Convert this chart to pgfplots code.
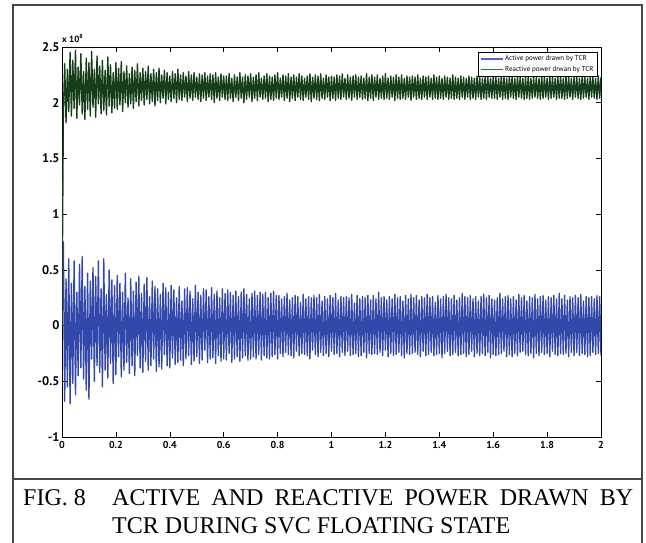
\documentclass[border=0pt]{standalone}
\usepackage{pgfplots}
\pgfplotsset{compat=1.18}
\usepackage{pgfplotstable}
\usepackage{fontspec}
\setmainfont{Liberation Serif}
\newfontfamily\labelfont{PT Sans}

\definecolor{tcrBlue}{RGB}{50,72,170}
\definecolor{tcrGreen}{RGB}{22,62,26}
\definecolor{legBlue}{RGB}{80,100,200}
\definecolor{legGreen}{RGB}{40,120,45}
\definecolor{frameGray}{RGB}{70,70,70}

% t [s], active power p and reactive power q [x 10^8]
\pgfplotstableread[row sep=\\]{
t p q\\
0.000 0 0\\
0.005 0.75 1.90\\ 0.010 -0.68 2.35\\ 0.015 0.42 1.82\\ 0.020 -0.55 2.30\\ 0.025 0.60 1.92\\
0.030 -0.70 2.45\\ 0.035 0.38 1.88\\ 0.040 -0.52 2.38\\ 0.045 0.58 1.95\\ 0.050 -0.62 2.47\\
0.055 0.30 1.86\\ 0.060 -0.45 2.32\\ 0.065 0.55 1.98\\ 0.070 -0.38 2.44\\ 0.075 0.62 1.90\\
0.080 -0.48 2.28\\ 0.085 0.35 1.85\\ 0.090 -0.58 2.40\\ 0.095 0.47 1.94\\ 0.100 -0.66 2.36\\
0.105 0.40 1.88\\ 0.110 -0.30 2.46\\ 0.115 0.52 1.96\\ 0.120 -0.50 2.30\\ 0.125 0.44 1.87\\
0.130 -0.36 2.42\\ 0.135 0.58 1.99\\ 0.140 -0.42 2.33\\ 0.145 0.33 1.90\\ 0.150 -0.55 2.38\\
0.155 0.60 1.93\\ 0.160 -0.40 2.29\\ 0.165 0.28 1.89\\ 0.170 -0.47 2.41\\ 0.175 0.50 1.97\\
0.180 -0.34 2.34\\ 0.185 0.41 1.91\\ 0.190 -0.52 2.27\\ 0.195 0.36 1.95\\ 0.200 -0.44 2.36\\
0.205 0.45 1.94\\ 0.210 -0.28 2.31\\ 0.215 0.38 1.98\\ 0.220 -0.46 2.37\\ 0.225 0.30 1.92\\
0.230 -0.40 2.28\\ 0.235 0.47 2.00\\ 0.240 -0.33 2.33\\ 0.245 0.25 1.96\\ 0.250 -0.43 2.26\\
0.255 0.42 1.99\\ 0.260 -0.36 2.32\\ 0.265 0.31 1.95\\ 0.270 -0.45 2.29\\ 0.275 0.39 2.01\\
0.280 -0.27 2.35\\ 0.285 0.44 1.97\\ 0.290 -0.38 2.27\\ 0.295 0.29 2.02\\ 0.300 -0.42 2.31\\
0.305 0.37 1.98\\ 0.310 -0.32 2.28\\ 0.315 0.43 2.03\\ 0.320 -0.40 2.33\\ 0.325 0.26 1.99\\
0.330 -0.36 2.26\\ 0.335 0.40 2.01\\ 0.340 -0.30 2.30\\ 0.345 0.35 1.97\\ 0.350 -0.41 2.27\\
0.355 0.33 2.02\\ 0.360 -0.37 2.31\\ 0.365 0.28 2.00\\ 0.370 -0.39 2.25\\ 0.375 0.38 2.04\\
0.380 -0.26 2.29\\ 0.385 0.34 1.99\\ 0.390 -0.36 2.27\\ 0.395 0.30 2.03\\ 0.400 -0.38 2.24\\
0.405 0.36 2.01\\ 0.410 -0.29 2.28\\ 0.415 0.32 2.04\\ 0.420 -0.35 2.26\\ 0.425 0.25 2.00\\
0.430 -0.33 2.30\\ 0.435 0.35 2.03\\ 0.440 -0.31 2.25\\ 0.445 0.22 2.02\\ 0.450 -0.36 2.27\\
0.455 0.33 2.05\\ 0.460 -0.30 2.24\\ 0.465 0.34 2.01\\ 0.470 -0.27 2.28\\ 0.475 0.31 2.04\\
0.480 -0.35 2.25\\ 0.485 0.24 2.02\\ 0.490 -0.32 2.27\\ 0.495 0.36 2.05\\ 0.500 -0.28 2.23\\
0.505 0.30 2.03\\ 0.510 -0.34 2.26\\ 0.515 0.27 2.01\\ 0.520 -0.31 2.25\\ 0.525 0.33 2.04\\
0.530 -0.22 2.27\\ 0.535 0.32 2.02\\ 0.540 -0.33 2.24\\ 0.545 0.26 2.05\\ 0.550 -0.30 2.26\\
0.555 0.34 2.03\\ 0.560 -0.29 2.25\\ 0.565 0.28 2.00\\ 0.570 -0.34 2.27\\ 0.575 0.31 2.04\\
0.580 -0.27 2.23\\ 0.585 0.25 2.02\\ 0.590 -0.32 2.26\\ 0.595 0.33 2.05\\ 0.600 -0.30 2.24\\
0.605 0.29 2.03\\ 0.610 -0.31 2.24\\ 0.615 0.32 2.02\\ 0.620 -0.25 2.26\\ 0.625 0.30 2.04\\
0.630 -0.33 2.22\\ 0.635 0.27 2.01\\ 0.640 -0.30 2.25\\ 0.645 0.31 2.05\\ 0.650 -0.28 2.23\\
0.655 0.26 2.02\\ 0.660 -0.32 2.27\\ 0.665 0.30 2.04\\ 0.670 -0.29 2.23\\ 0.675 0.33 2.00\\
0.680 -0.27 2.25\\ 0.685 0.28 2.03\\ 0.690 -0.31 2.24\\ 0.695 0.24 2.05\\ 0.700 -0.30 2.26\\
0.705 0.29 2.01\\ 0.710 -0.28 2.23\\ 0.715 0.31 2.04\\ 0.720 -0.30 2.25\\ 0.725 0.27 2.02\\
0.730 -0.26 2.27\\ 0.735 0.30 2.05\\ 0.740 -0.31 2.22\\ 0.745 0.28 2.03\\ 0.750 -0.27 2.24\\
0.755 0.30 2.04\\ 0.760 -0.29 2.26\\ 0.765 0.25 2.01\\ 0.770 -0.30 2.24\\ 0.775 0.29 2.03\\
0.780 -0.28 2.23\\ 0.785 0.31 2.02\\ 0.790 -0.26 2.25\\ 0.795 0.27 2.04\\ 0.800 -0.30 2.27\\
0.805 0.27 2.03\\ 0.810 -0.25 2.22\\ 0.815 0.24 2.05\\ 0.820 -0.28 2.25\\ 0.825 0.26 2.02\\
0.830 -0.24 2.24\\ 0.835 0.29 2.04\\ 0.840 -0.26 2.26\\ 0.845 0.23 2.01\\ 0.850 -0.27 2.23\\
0.855 0.25 2.04\\ 0.860 -0.29 2.25\\ 0.865 0.27 2.02\\ 0.870 -0.23 2.23\\ 0.875 0.26 2.05\\
0.880 -0.27 2.26\\ 0.885 0.21 2.03\\ 0.890 -0.25 2.24\\ 0.895 0.28 2.02\\ 0.900 -0.26 2.22\\
0.905 0.24 2.05\\ 0.910 -0.27 2.24\\ 0.915 0.26 2.03\\ 0.920 -0.30 2.26\\ 0.925 0.25 2.01\\
0.930 -0.22 2.23\\ 0.935 0.27 2.04\\ 0.940 -0.26 2.25\\ 0.945 0.25 2.03\\ 0.950 -0.28 2.24\\
0.955 0.28 2.02\\ 0.960 -0.24 2.26\\ 0.965 0.22 2.04\\ 0.970 -0.27 2.22\\ 0.975 0.26 2.03\\
0.980 -0.25 2.25\\ 0.985 0.24 2.05\\ 0.990 -0.28 2.23\\ 0.995 0.27 2.02\\ 1.000 -0.23 2.24\\
1.005 0.25 2.04\\ 1.010 -0.26 2.23\\ 1.015 0.29 2.02\\ 1.020 -0.25 2.25\\ 1.025 0.23 2.04\\
1.030 -0.28 2.24\\ 1.035 0.26 2.03\\ 1.040 -0.24 2.26\\ 1.045 0.25 2.05\\ 1.050 -0.27 2.22\\
1.055 0.26 2.03\\ 1.060 -0.23 2.25\\ 1.065 0.25 2.04\\ 1.070 -0.27 2.23\\ 1.075 0.28 2.02\\
1.080 -0.26 2.24\\ 1.085 0.20 2.05\\ 1.090 -0.25 2.25\\ 1.095 0.27 2.03\\ 1.100 -0.28 2.23\\
1.105 0.24 2.05\\ 1.110 -0.27 2.24\\ 1.115 0.26 2.03\\ 1.120 -0.24 2.22\\ 1.125 0.25 2.04\\
1.130 -0.29 2.26\\ 1.135 0.27 2.02\\ 1.140 -0.25 2.23\\ 1.145 0.23 2.04\\ 1.150 -0.26 2.25\\
1.155 0.27 2.02\\ 1.160 -0.25 2.23\\ 1.165 0.24 2.05\\ 1.170 -0.26 2.25\\ 1.175 0.30 2.03\\
1.180 -0.24 2.22\\ 1.185 0.25 2.04\\ 1.190 -0.27 2.24\\ 1.195 0.26 2.03\\ 1.200 -0.22 2.26\\
1.205 0.23 2.04\\ 1.210 -0.28 2.22\\ 1.215 0.26 2.03\\ 1.220 -0.25 2.24\\ 1.225 0.24 2.05\\
1.230 -0.27 2.23\\ 1.235 0.28 2.02\\ 1.240 -0.26 2.25\\ 1.245 0.25 2.04\\ 1.250 -0.24 2.23\\
1.255 0.26 2.03\\ 1.260 -0.27 2.25\\ 1.265 0.22 2.04\\ 1.270 -0.29 2.22\\ 1.275 0.27 2.03\\
1.280 -0.25 2.24\\ 1.285 0.24 2.05\\ 1.290 -0.26 2.23\\ 1.295 0.28 2.02\\ 1.300 -0.25 2.24\\
1.305 0.25 2.05\\ 1.310 -0.24 2.23\\ 1.315 0.27 2.03\\ 1.320 -0.26 2.25\\ 1.325 0.23 2.04\\
1.330 -0.28 2.22\\ 1.335 0.26 2.03\\ 1.340 -0.23 2.24\\ 1.345 0.25 2.05\\ 1.350 -0.27 2.23\\
1.355 0.28 2.03\\ 1.360 -0.26 2.24\\ 1.365 0.25 2.05\\ 1.370 -0.24 2.22\\ 1.375 0.26 2.03\\
1.380 -0.27 2.25\\ 1.385 0.21 2.04\\ 1.390 -0.26 2.23\\ 1.395 0.27 2.03\\ 1.400 -0.25 2.24\\
1.405 0.24 2.04\\ 1.410 -0.29 2.22\\ 1.415 0.26 2.03\\ 1.420 -0.25 2.24\\ 1.425 0.28 2.05\\
1.430 -0.23 2.23\\ 1.435 0.25 2.03\\ 1.440 -0.27 2.22\\ 1.445 0.24 2.04\\ 1.450 -0.26 2.25\\
1.455 0.27 2.03\\ 1.460 -0.24 2.23\\ 1.465 0.23 2.04\\ 1.470 -0.27 2.22\\ 1.475 0.25 2.03\\
1.480 -0.26 2.24\\ 1.485 0.29 2.05\\ 1.490 -0.25 2.23\\ 1.495 0.26 2.03\\ 1.500 -0.28 2.22\\
1.505 0.25 2.05\\ 1.510 -0.26 2.24\\ 1.515 0.27 2.03\\ 1.520 -0.23 2.23\\ 1.525 0.24 2.04\\
1.530 -0.28 2.22\\ 1.535 0.26 2.03\\ 1.540 -0.25 2.24\\ 1.545 0.22 2.05\\ 1.550 -0.27 2.23\\
1.555 0.26 2.03\\ 1.560 -0.25 2.22\\ 1.565 0.28 2.04\\ 1.570 -0.27 2.24\\ 1.575 0.25 2.03\\
1.580 -0.24 2.23\\ 1.585 0.27 2.05\\ 1.590 -0.29 2.22\\ 1.595 0.24 2.04\\ 1.600 -0.26 2.24\\
1.605 0.23 2.04\\ 1.610 -0.27 2.23\\ 1.615 0.25 2.03\\ 1.620 -0.26 2.22\\ 1.625 0.29 2.05\\
1.630 -0.25 2.24\\ 1.635 0.24 2.03\\ 1.640 -0.23 2.23\\ 1.645 0.26 2.04\\ 1.650 -0.28 2.22\\
1.655 0.27 2.03\\ 1.660 -0.26 2.24\\ 1.665 0.24 2.05\\ 1.670 -0.28 2.23\\ 1.675 0.26 2.04\\
1.680 -0.25 2.22\\ 1.685 0.23 2.03\\ 1.690 -0.27 2.24\\ 1.695 0.28 2.05\\ 1.700 -0.24 2.23\\
1.705 0.25 2.04\\ 1.710 -0.23 2.22\\ 1.715 0.27 2.03\\ 1.720 -0.26 2.23\\ 1.725 0.22 2.04\\
1.730 -0.27 2.24\\ 1.735 0.26 2.03\\ 1.740 -0.25 2.22\\ 1.745 0.25 2.04\\ 1.750 -0.29 2.23\\
1.755 0.28 2.05\\ 1.760 -0.25 2.23\\ 1.765 0.24 2.04\\ 1.770 -0.27 2.22\\ 1.775 0.26 2.03\\
1.780 -0.24 2.24\\ 1.785 0.27 2.04\\ 1.790 -0.26 2.23\\ 1.795 0.23 2.05\\ 1.800 -0.25 2.22\\
1.805 0.26 2.03\\ 1.810 -0.28 2.24\\ 1.815 0.25 2.04\\ 1.820 -0.23 2.23\\ 1.825 0.27 2.05\\
1.830 -0.26 2.22\\ 1.835 0.24 2.03\\ 1.840 -0.27 2.23\\ 1.845 0.29 2.04\\ 1.850 -0.25 2.24\\
1.855 0.24 2.04\\ 1.860 -0.26 2.22\\ 1.865 0.27 2.03\\ 1.870 -0.25 2.24\\ 1.875 0.23 2.04\\
1.880 -0.28 2.23\\ 1.885 0.26 2.05\\ 1.890 -0.24 2.22\\ 1.895 0.25 2.03\\ 1.900 -0.27 2.23\\
1.905 0.27 2.05\\ 1.910 -0.24 2.23\\ 1.915 0.25 2.04\\ 1.920 -0.27 2.22\\ 1.925 0.28 2.03\\
1.930 -0.25 2.24\\ 1.935 0.22 2.04\\ 1.940 -0.26 2.23\\ 1.945 0.26 2.05\\ 1.950 -0.28 2.22\\
1.955 0.25 2.03\\ 1.960 -0.27 2.24\\ 1.965 0.26 2.05\\ 1.970 -0.24 2.23\\ 1.975 0.24 2.04\\
1.980 -0.26 2.22\\ 1.985 0.27 2.03\\ 1.990 -0.25 2.24\\ 1.995 0.26 2.04\\ 2.000 -0.27 2.23\\
}\tcrdata

\begin{document}
\begin{tikzpicture}
\path[use as bounding box] (0pt,0pt) rectangle (646pt,-542pt);

% figure frame and caption separator
\draw[frameGray, line width=1.3pt] (13pt,-546pt) -- (13pt,-5pt) -- (642pt,-5pt) -- (642pt,-546pt);
\draw[frameGray, line width=1.3pt] (13pt,-479pt) -- (642pt,-479pt);

\begin{axis}[
    at={(62pt,-437pt)}, anchor=south west,
    scale only axis, width=539pt, height=390pt,
    xmin=0, xmax=2, ymin=-1, ymax=2.5,
    xtick={0,0.2,0.4,0.6,0.8,1,1.2,1.4,1.6,1.8,2},
    xticklabels={0,0.2,0.4,0.6,0.8,1,1.2,1.4,1.6,1.8,2},
    ytick={-1,-0.5,0,0.5,1,1.5,2,2.5},
    yticklabels={-1,-0.5,0,0.5,1,1.5,2,2.5},
    tick align=inside, major tick length=5pt,
    tick style={black, line width=0.6pt},
    axis line style={black, line width=0.8pt},
    xticklabel style={font=\labelfont\bfseries\fontsize{10}{11}\selectfont, yshift=-1pt},
    yticklabel style={font=\labelfont\bfseries\fontsize{12.5}{13}\selectfont, xshift=1pt},
    legend style={at={(rel axis cs:0.993,0.987)}, anchor=north east,
        font=\labelfont\fontsize{7}{8}\selectfont,
        inner sep=1.5pt, row sep=0pt},
    legend cell align=left,
    legend image code/.code={\draw[#1] (0pt,0pt) -- (22pt,0pt);},
]
\addplot[tcrBlue, line width=1.35pt, line join=round, forget plot] table[x=t, y=p] {\tcrdata};
\addplot[tcrGreen, line width=1.35pt, line join=round, forget plot] table[x=t, y=q] {\tcrdata};
\addlegendimage{color=legBlue, draw=legBlue, line width=1.3pt}
\addlegendentry{Active power drawn by TCR}
\addlegendimage{color=legGreen, draw=legGreen, line width=1.3pt}
\addlegendentry{Reactive power drwan by TCR}
\end{axis}

% axis multiplier
\node[anchor=base west, inner sep=0pt, font=\labelfont\bfseries\fontsize{9}{10}\selectfont]
    at (62pt,-42pt) {x 10\textsuperscript{8}};

% caption
\node[anchor=base west, inner sep=0pt, font=\fontsize{24}{27}\selectfont] at (23pt,-505pt) {FIG. 8};
\node[anchor=base west, inner sep=0pt, font=\fontsize{24}{27}\selectfont] at (112pt,-505pt)
    {\makebox[521pt][s]{ACTIVE AND REACTIVE POWER DRAWN BY}};
\node[anchor=base west, inner sep=0pt, font=\fontsize{24}{27}\selectfont] at (112pt,-533pt)
    {TCR DURING SVC FLOATING STATE};
\end{tikzpicture}
\end{document}
